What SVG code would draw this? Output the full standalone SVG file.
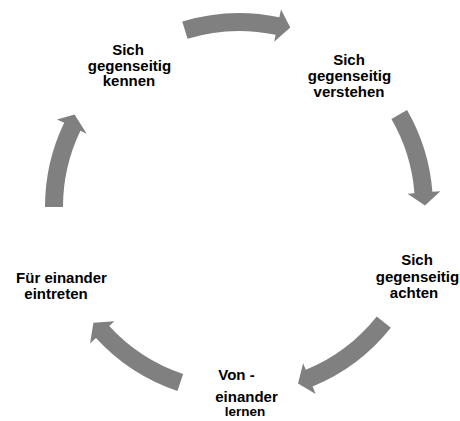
<svg xmlns="http://www.w3.org/2000/svg" width="460" height="421" viewBox="0 0 460 421">
<style>
.arr{fill:#808080;stroke:none}
.t{font-family:"Liberation Sans",Arial,sans-serif;font-weight:bold;font-size:15px;fill:#000;text-anchor:middle}
.s{font-size:13.5px}
</style>
<rect width="460" height="421" fill="#fff"/>
<g id="connectors">
<path class="arr" d="M182.28,21.48 A194,194 0 0 1 279.33,17.24 L281,9.41 L290.27,27.5 L274.14,41.69 L275.59,34.85 A176,176 0 0 0 187.54,38.69 Z"/>
<path class="arr" d="M407.01,110 A194,194 0 0 1 432.4,191.78 L440.38,191.15 L425,205.38 L407.48,193.74 L414.46,193.19 A176,176 0 0 0 391.42,119 Z"/>
<path class="arr" d="M390.83,327.77 A194,194 0 0 1 312.62,386.49 L315.65,393.89 L298.02,383.39 L303.13,363.36 L305.78,369.84 A176,176 0 0 0 376.74,316.56 Z"/>
<path class="arr" d="M177.44,390.97 A194,194 0 0 1 95.97,338.06 L90.07,343.47 L93.43,322.79 L114.4,321.17 L109.24,325.9 A176,176 0 0 0 183.16,373.9 Z"/>
<path class="arr" d="M45,207 A194,194 0 0 1 64.19,122.87 L56.98,119.4 L74.5,114.5 L86.72,133.71 L80.41,130.68 A176,176 0 0 0 63,207 Z"/>
</g>
<g id="node-kennen">
<text class="t" x="128" y="55">Sich</text>
<text class="t" x="129.5" y="70.5">gegenseitig</text>
<text class="t" x="129" y="86">kennen</text>
</g>
<g id="node-verstehen">
<text class="t" x="349" y="65">Sich</text>
<text class="t" x="349.5" y="80.5">gegenseitig</text>
<text class="t" x="349" y="96.5">verstehen</text>
</g>
<g id="node-achten">
<text class="t" x="417" y="265">Sich</text>
<text class="t" x="417.5" y="281.5">gegenseitig</text>
<text class="t" x="414" y="298">achten</text>
</g>
<g id="node-lernen">
<text class="t" x="236.5" y="380">Von -</text>
<text class="t" x="246.5" y="402">einander</text>
<text class="t s" x="245" y="416">lernen</text>
</g>
<g id="node-eintreten">
<text class="t" x="61.5" y="283">Für einander</text>
<text class="t" x="56" y="298.5">eintreten</text>
</g>
</svg>
